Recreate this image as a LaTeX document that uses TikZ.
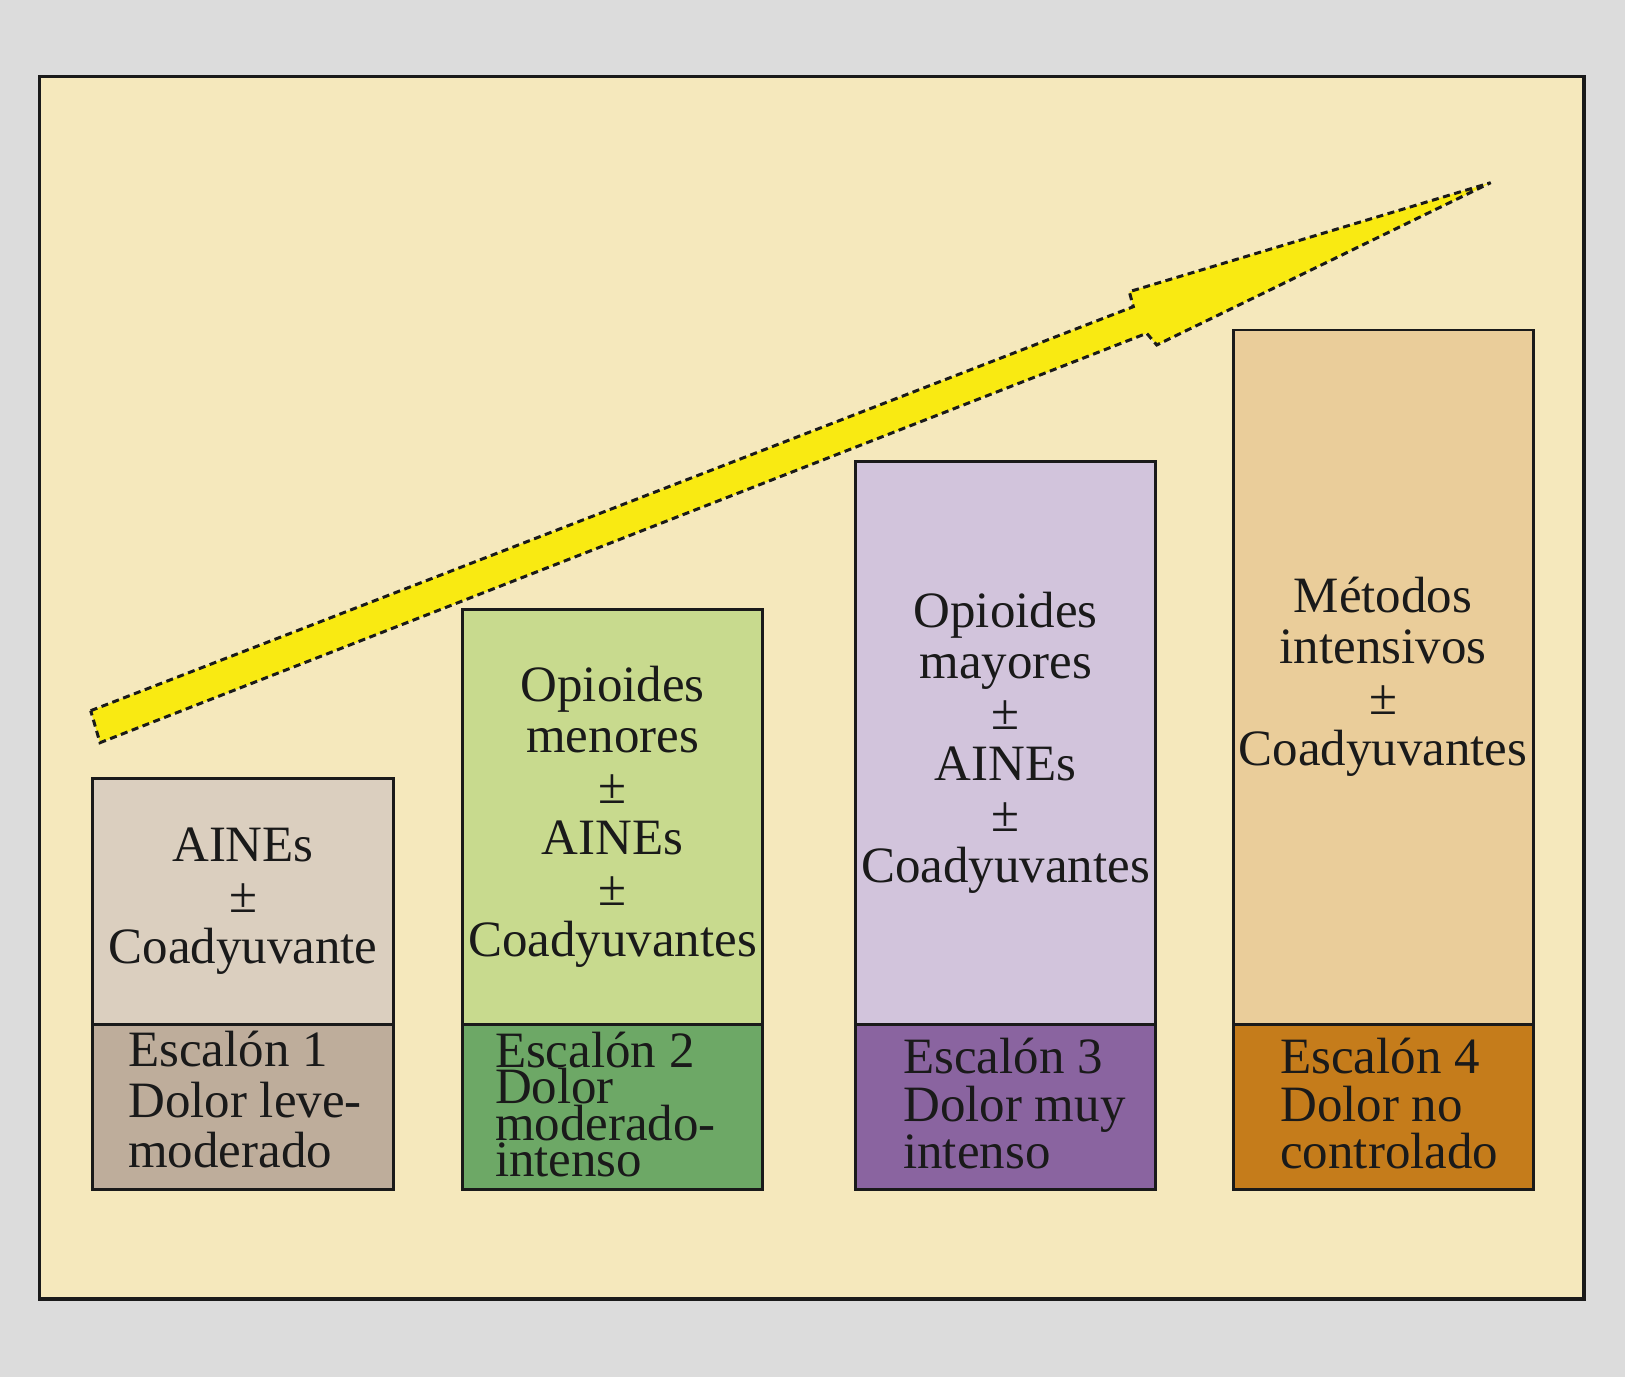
\documentclass[tikz,border=0pt]{standalone}
\usepackage{fontspec}
\setmainfont{Liberation Serif}
\definecolor{bggray}{HTML}{DCDCDC}
\definecolor{panel}{HTML}{F5E8BC}
\definecolor{inkc}{HTML}{1A1A1A}
\definecolor{aT}{HTML}{DBCFBF}
\definecolor{aB}{HTML}{BEAD9B}
\definecolor{bT}{HTML}{C8DA8E}
\definecolor{bB}{HTML}{6DA866}
\definecolor{cT}{HTML}{D2C4DC}
\definecolor{cB}{HTML}{8A64A0}
\definecolor{dT}{HTML}{EACD9A}
\definecolor{dB}{HTML}{C57C1B}
\definecolor{arrowyellow}{HTML}{F9EA12}
\tikzset{
  boxpart/.style={draw=inkc, line width=0.85pt, rectangle, inner sep=0pt, outer sep=0pt, text=inkc,
    align=center, font=\fontsize{14.5}{14.5}\selectfont},
  steplabel/.style={inner sep=0pt, outer sep=0pt, anchor=south west, align=left, text=inkc},
  bigarrow/.style={fill=arrowyellow, draw=inkc, line width=0.85pt, dash pattern=on 2pt off 1.3pt, line join=miter},
}
\begin{document}
\begin{tikzpicture}[x=0.1mm,y=-0.1mm]
\fill[bggray] (0,0) rectangle (1625,1377);
\useasboundingbox (0,0) rectangle (1625,1377);
\draw[fill=panel, draw=inkc, line width=1pt] (39.5,76.5) rectangle (1584,1299);

% arrow
\coordinate (tailU) at (90.7,710.7);
\coordinate (tailL) at (100,742.7);
\coordinate (neckU) at (1133.3,306.7);
\coordinate (barbU) at (1129.3,291.7);
\coordinate (tip) at (1490.7,182.7);
\coordinate (barbL) at (1156.7,345);
\coordinate (neckL) at (1146.7,333.3);
\draw[bigarrow] (tailU) -- (neckU) -- (barbU) -- (tip) -- (barbL) -- (neckL) -- (tailL) -- cycle;

% step 1
\node[boxpart, fill=aT, minimum width=30.05mm, minimum height=24.54mm] (t1) at (243,901.5)
  {AINEs\\±\\Coadyuvante};
\node[boxpart, fill=aB, minimum width=30.05mm, minimum height=16.48mm] (b1) at (243,1106.6) {};
\node[steplabel, font=\fontsize{14.5}{14.4}\selectfont] (l1) at (128.3,1168.3)
  {Escalón 1\\Dolor leve-\\moderado};

% step 2
\node[boxpart, fill=bT, minimum width=30.02mm, minimum height=41.46mm] (t2) at (612.6,816.9)
  {Opioides\\menores\\±\\AINEs\\±\\Coadyuvantes};
\node[boxpart, fill=bB, minimum width=30.02mm, minimum height=16.48mm] (b2) at (612.6,1106.6) {};
\node[steplabel, font=\fontsize{14.5}{10.3}\selectfont] (l2) at (495,1176.7)
  {Escalón 2\\Dolor\\moderado-\\intenso};

% step 3
\node[boxpart, fill=cT, minimum width=30.03mm, minimum height=56.27mm] (t3) at (1005.65,742.85)
  {Opioides\\mayores\\±\\AINEs\\±\\Coadyuvantes};
\node[boxpart, fill=cB, minimum width=30.03mm, minimum height=16.48mm] (b3) at (1005.65,1106.6) {};
\node[steplabel, font=\fontsize{14.5}{13.5}\selectfont] (l3) at (903.3,1169)
  {Escalón 3\\Dolor muy\\intenso};

% step 4
\node[boxpart, fill=dT, minimum width=30mm, minimum height=69.42mm] (t4) at (1383,677.1)
  {Métodos\\intensivos\\±\\Coadyuvantes};
\node[boxpart, fill=dB, minimum width=30mm, minimum height=16.48mm] (b4) at (1383,1106.6) {};
\node[steplabel, font=\fontsize{14.5}{13.5}\selectfont] (l4) at (1280.3,1169)
  {Escalón 4\\Dolor no\\controlado};
\end{tikzpicture}
\end{document}
